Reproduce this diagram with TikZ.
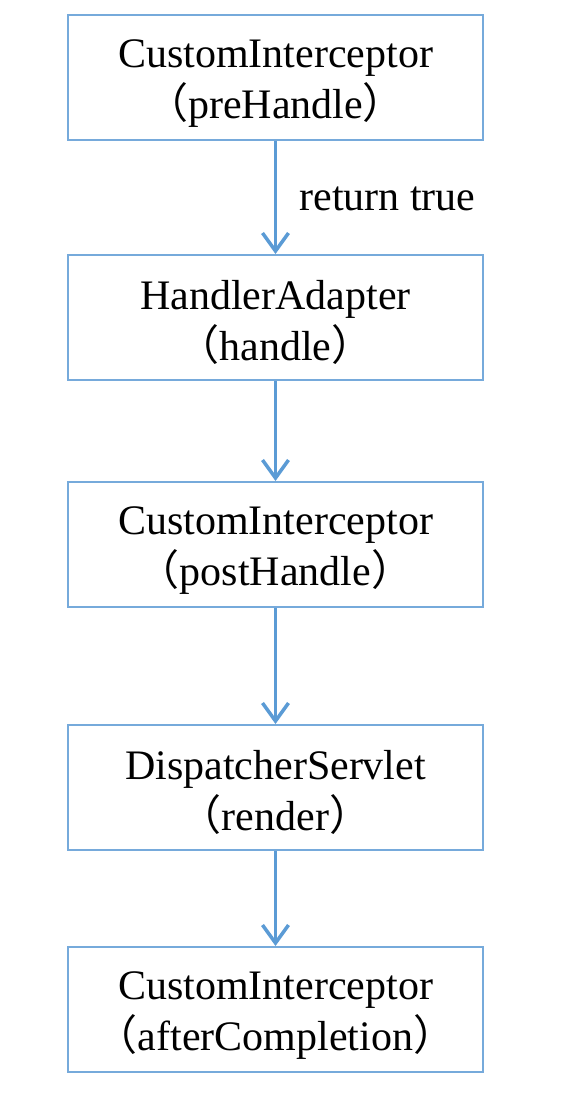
\documentclass[tikz,border=0pt]{standalone}
\usepackage{fontspec}
\setmainfont{Liberation Serif}
\newfontfamily\cjk{Noto Sans CJK SC}
\usetikzlibrary{arrows.meta}
\definecolor{boxblue}{HTML}{76AADB}
\definecolor{arrowblue}{HTML}{5B9BD5}
\tikzset{
  stepnode/.style={draw=boxblue, line width=1pt, minimum width=207.5pt,
    minimum height=62.5pt, inner sep=0pt, align=center,
    font=\fontsize{21}{25.5}\selectfont},
  flow/.style={draw=arrowblue, line width=1.75pt,
    -{Straight Barb[length=9pt, width=13pt, line width=1.75pt]}},
}
\newcommand{\paren}[1]{{\cjk （}#1{\cjk ）}}
\newcommand{\topstrut}{\rule{0pt}{19.5pt}}

\begin{document}
\begin{tikzpicture}[x=0.5pt, y=-0.5pt]
  \useasboundingbox (0,0) rectangle (580,1096);
  % the five steps
  \node[stepnode] (pre)    at (275.5,77.5)   {\topstrut CustomInterceptor\\\paren{preHandle}};
  \node[stepnode] (adapt)  at (275.5,317.5)  {\topstrut HandlerAdapter\\\paren{handle}};
  \node[stepnode] (post)   at (275.5,544.5)  {\topstrut CustomInterceptor\\\paren{postHandle}};
  \node[stepnode] (render) at (275.5,787.5)  {\topstrut DispatcherServlet\\\paren{render}};
  \node[stepnode] (after)  at (275.5,1009.5) {\topstrut CustomInterceptor\\\paren{afterCompletion}};
  % arrows
  \draw[flow] (pre) -- (adapt);
  \draw[flow] (adapt) -- (post);
  \draw[flow] (post) -- (render);
  \draw[flow] (render) -- (after);
  \node[anchor=west, inner sep=0pt, font=\fontsize{21}{25}\selectfont] (ret) at (299,199) {return true};
\end{tikzpicture}
\end{document}
